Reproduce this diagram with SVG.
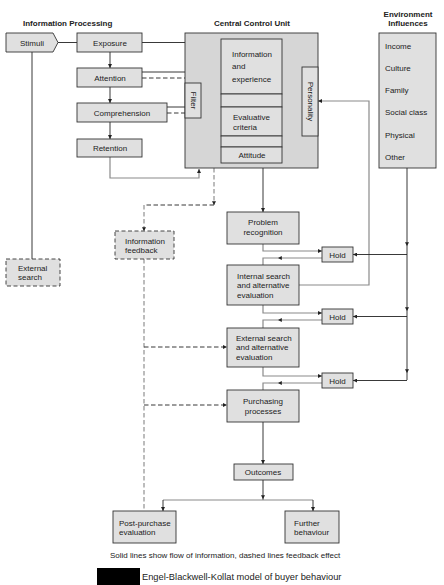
<svg xmlns="http://www.w3.org/2000/svg" width="444" height="585" viewBox="0 0 444 585">
<style>
text{font-family:"Liberation Sans",Arial,sans-serif;font-size:8px;fill:#222}
.t{font-weight:bold}
.c{text-anchor:middle}
.box{fill:#e0e0e0;stroke:#333;stroke-width:0.9}
.dbox{fill:#e0e0e0;stroke:#333;stroke-width:0.9;stroke-dasharray:4,2.5}
.ln{fill:none;stroke:#222;stroke-width:0.9}
.gl{fill:none;stroke:#8a8a8a;stroke-width:1.2}
.dl{fill:none;stroke:#222;stroke-width:0.9;stroke-dasharray:4.5,2.5}
.gd{fill:none;stroke:#a0a0a0;stroke-width:1.4;stroke-dasharray:4.5,2.5}
.tri{fill:#222}
</style>
<defs>
<marker id="ah" viewBox="0 0 6 6" refX="6" refY="3" markerWidth="4" markerHeight="4" markerUnits="userSpaceOnUse" orient="auto"><path d="M0,0 L6,3 L0,6 z" fill="#222"/></marker>
<path id="tri" d="M-2,-1.8 L2,-1.8 L0,2 z"/>
</defs>
<rect width="444" height="585" fill="#fff"/>

<g id="titles">
<text class="t" x="23" y="26">Information Processing</text>
<text class="t c" x="252" y="26">Central Control Unit</text>
<text class="t c" x="408" y="17">Environment</text>
<text class="t c" x="408" y="26">Influences</text>
</g>

<g id="connectors">
<path class="ln" d="M58,42.5 H77"/>
<path class="ln" d="M142,42.5 H185"/>
<path class="ln" d="M110,52 V68" marker-end="url(#ah)"/>
<path class="ln" d="M110,87 V103" marker-end="url(#ah)"/>
<path class="ln" d="M110,122 V139" marker-end="url(#ah)"/>
<path class="ln" d="M142,72 H185"/>
<path class="dl" d="M142,78 H185"/>
<path class="ln" d="M167,107 H185"/>
<path class="dl" d="M167,113 H185"/>
<path class="gl" d="M110,157 V178 H199 V169" marker-end="url(#ah)"/>
<path class="ln" d="M221,101 H201" marker-end="url(#ah)"/>
<path class="ln" d="M302,101 H282" marker-end="url(#ah)"/>
<path class="ln" d="M252,94 V107" marker-end="url(#ah)"/>
<path class="ln" d="M252,136 V147" marker-end="url(#ah)"/>
<path class="gl" d="M299,285 H369 V101 H318" marker-end="url(#ah)"/>
<path class="ln" d="M407,168 V380"/>
<use href="#tri" class="tri" x="407" y="244"/>
<use href="#tri" class="tri" x="407" y="309"/>
<use href="#tri" class="tri" x="407" y="371"/>
<path class="ln" d="M407,254.5 H353" marker-end="url(#ah)"/>
<path class="ln" d="M407,316.5 H353" marker-end="url(#ah)"/>
<path class="ln" d="M407,380.5 H353" marker-end="url(#ah)"/>
<path class="ln" d="M263,168 V212" marker-end="url(#ah)"/>
<path class="gl" d="M263,244 V251 H322" marker-end="url(#ah)"/>
<path class="gl" d="M322,258 H263 V265"/>
<use href="#tri" class="tri" transform="translate(280,258) rotate(90)"/>
<path class="gl" d="M263,305 V313 H322" marker-end="url(#ah)"/>
<path class="gl" d="M322,320 H263 V328"/>
<use href="#tri" class="tri" transform="translate(280,320) rotate(90)"/>
<path class="gl" d="M263,367 V376 H322" marker-end="url(#ah)"/>
<path class="gl" d="M322,383 H263 V390"/>
<use href="#tri" class="tri" transform="translate(280,383) rotate(90)"/>
<path class="ln" d="M263,422 V464" marker-end="url(#ah)"/>
<path class="ln" d="M263,480 V500"/>
<use href="#tri" class="tri" x="263" y="497"/>
<path class="gl" d="M163,500 H313"/>
<path class="ln" d="M163,500 V511" marker-end="url(#ah)"/>
<path class="ln" d="M313,500 V511" marker-end="url(#ah)"/>
<path class="ln" d="M32,52 V259"/>
<path class="gd" d="M214,168 V205"/>
<use href="#tri" class="tri" x="214" y="203"/>
<path class="dl" d="M214,205 H144"/>
<path class="gd" d="M144,205 V231"/>
<use href="#tri" class="tri" x="144" y="229"/>
<path class="gd" d="M144,259 V511"/>
<path class="dl" d="M144,347 H227" marker-end="url(#ah)"/>
<path class="dl" d="M144,405 H227" marker-end="url(#ah)"/>
</g>

<g id="stimuli">
<polygon class="box" points="6,33 53,33 58,42.5 53,52 6,52"/>
<text class="c" x="32" y="45.5">Stimuli</text>
</g>
<g id="exposure"><rect class="box" x="77" y="33" width="65" height="19"/><text class="c" x="110" y="45.5">Exposure</text></g>
<g id="attention"><rect class="box" x="77" y="68" width="65" height="19"/><text class="c" x="110" y="80.5">Attention</text></g>
<g id="comprehension"><rect class="box" x="77" y="103" width="90" height="19"/><text class="c" x="122" y="115.5">Comprehension</text></g>
<g id="retention"><rect class="box" x="77" y="139" width="65" height="18"/><text class="c" x="110" y="151">Retention</text></g>

<g id="central-control-unit">
<rect x="185" y="33" width="133" height="135" fill="#d6d6d6" stroke="#333" stroke-width="0.9"/>
</g>
<g id="filter">
<rect class="box" x="185" y="83" width="16" height="35"/>
<text class="c" transform="translate(190.5,100.5) rotate(90)">Filter</text>
</g>
<g id="information-experience">
<rect class="box" x="221" y="39" width="61" height="55"/>
<text x="232" y="57">Information</text>
<text x="232" y="69">and</text>
<text x="232" y="82">experience</text>
</g>
<g id="link-1"><rect class="box" x="221" y="94" width="61" height="13"/></g>
<g id="evaluative-criteria">
<rect class="box" x="221" y="107" width="61" height="29"/>
<text x="233" y="120">Evaluative</text>
<text x="233" y="130">criteria</text>
</g>
<g id="link-2"><rect class="box" x="221" y="136" width="61" height="11"/></g>
<g id="attitude"><rect class="box" x="221" y="147" width="61" height="16"/><text class="c" x="252" y="158">Attitude</text></g>
<g id="personality">
<rect class="box" x="302" y="67" width="16" height="69"/>
<text class="c" transform="translate(307.5,101.5) rotate(90)">Personality</text>
</g>

<g id="environment">
<rect class="box" x="379" y="33" width="57" height="135"/>
<text x="385" y="49">Income</text>
<text x="385" y="71">Culture</text>
<text x="385" y="93">Family</text>
<text x="385" y="115">Social class</text>
<text x="385" y="138">Physical</text>
<text x="385" y="160">Other</text>
</g>

<g id="information-feedback">
<rect class="dbox" x="115" y="231" width="59" height="28"/>
<text x="125" y="244">Information</text>
<text x="125" y="253">feedback</text>
</g>
<g id="external-search-left">
<rect class="dbox" x="6" y="259" width="54" height="27"/>
<text x="18" y="271">External</text>
<text x="18" y="280">search</text>
</g>

<g id="problem-recognition"><rect class="box" x="227" y="212" width="72" height="32"/><text class="c" x="263" y="225">Problem</text><text class="c" x="263" y="235">recognition</text></g>
<g id="hold-1"><rect class="box" x="322" y="247" width="31" height="15"/><text class="c" x="337.5" y="257.5">Hold</text></g>
<g id="internal-search"><rect class="box" x="227" y="265" width="72" height="40"/><text x="237" y="279">Internal search</text><text x="237" y="288">and alternative</text><text x="237" y="298">evaluation</text></g>
<g id="hold-2"><rect class="box" x="322" y="309" width="31" height="15"/><text class="c" x="337.5" y="319.5">Hold</text></g>
<g id="external-search"><rect class="box" x="227" y="328" width="72" height="39"/><text x="236" y="341">External search</text><text x="236" y="350">and alternative</text><text x="236" y="360">evaluation</text></g>
<g id="hold-3"><rect class="box" x="322" y="373" width="31" height="15"/><text class="c" x="337.5" y="383.5">Hold</text></g>
<g id="purchasing-processes"><rect class="box" x="227" y="390" width="72" height="32"/><text class="c" x="263" y="404">Purchasing</text><text class="c" x="263" y="414">processes</text></g>
<g id="outcomes"><rect class="box" x="234" y="464" width="59" height="16"/><text class="c" x="263" y="475">Outcomes</text></g>
<g id="post-purchase"><rect class="box" x="113" y="511" width="63" height="32"/><text x="119" y="526">Post-purchase</text><text x="119" y="535">evaluation</text></g>
<g id="further-behaviour"><rect class="box" x="285" y="511" width="54" height="32"/><text x="294" y="526">Further</text><text x="294" y="535">behaviour</text></g>

<g id="caption">
<text x="110" y="558" style="font-size:8px">Solid lines show flow of information, dashed lines feedback effect</text>
<rect x="97" y="568" width="43" height="17" fill="#000"/>
<text x="142" y="579.5" style="font-size:9.3px">Engel-Blackwell-Kollat model of buyer behaviour</text>
</g>
</svg>
